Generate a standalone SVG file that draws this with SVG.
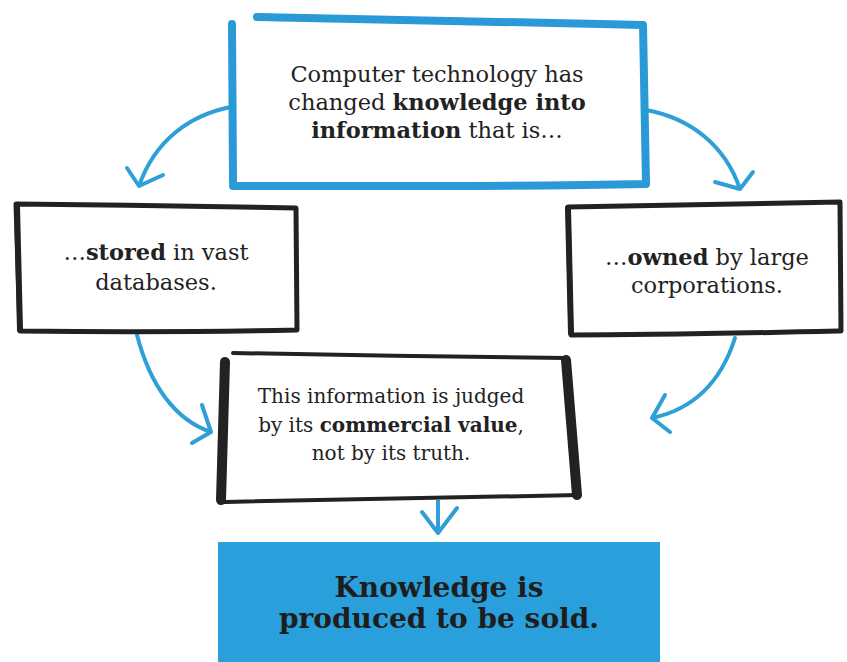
<svg xmlns="http://www.w3.org/2000/svg" width="847" height="662" viewBox="0 0 847 662">
<defs>
<style>
.blue{fill:none;stroke:#2a9ad6;stroke-width:8;stroke-linecap:round;stroke-linejoin:round}
.blk{fill:none;stroke:#222;stroke-width:5;stroke-linecap:round;stroke-linejoin:round}
.thick{fill:none;stroke:#222;stroke-width:9;stroke-linecap:round}
.arr{fill:none;stroke:#2f9fd8;stroke-width:4;stroke-linecap:round;stroke-linejoin:round}
.t{font-family:"DejaVu Serif","Liberation Serif",serif;font-size:22.5px;fill:#222;text-anchor:middle}
.m{font-size:20px}
.b{font-weight:bold}
.big{font-family:"DejaVu Serif","Liberation Serif",serif;font-size:28px;font-weight:bold;fill:#1e1e1e;text-anchor:middle}
</style>
</defs>
<rect width="847" height="662" fill="#ffffff"/>
<g id="connectors">
<path class="arr" d="M231,107 C190,115 155,140 139,186 M127,168 L139,186 L163,175"/>
<path class="arr" d="M646,110 C690,118 725,145 740,189 M715,182 L740,189 L753,172"/>
<path class="arr" d="M137,335 C150,385 175,420 211,432 M202,405 L211,432 L192,443"/>
<path class="arr" d="M735,338 C720,385 690,410 652,418 M665,395 L652,418 L670,432"/>
<path class="arr" d="M438,495 L438,533 M422,512 L438,533 L457,508"/>
</g>
<g id="node-top">
<rect x="233" y="20" width="412" height="166" fill="#fff"/>
<path class="blue" d="M233,182 L232,24 M257,17 C400,20 520,22 643,25 L646,184 C500,187 350,186 233,186"/>
<text class="t" x="437" y="82">Computer technology has</text>
<text class="t" x="437" y="110">changed <tspan class="b">knowledge into</tspan></text>
<text class="t" x="437" y="138"><tspan class="b">information</tspan> that is…</text>
</g>
<g id="node-stored">
<rect x="17" y="204" width="280" height="128" fill="#fff"/>
<path class="blk" d="M16,204 C110,205 200,206 296,208 L297,330 C200,332 110,332 20,331 Z"/>
<path class="thick" d="M17,206 L20,330" style="stroke-width:6"/>
<text class="t" x="156" y="260">…<tspan class="b">stored</tspan> in vast</text>
<text class="t" x="156" y="290">databases.</text>
</g>
<g id="node-owned">
<rect x="569" y="204" width="272" height="130" fill="#fff"/>
<path class="blk" d="M568,207 C660,205 750,203 840,202 L841,331 C750,333 660,335 571,335 Z"/>
<path class="thick" d="M568,208 L571,333" style="stroke-width:6"/>
<text class="t" x="707" y="265">…<tspan class="b">owned</tspan> by large</text>
<text class="t" x="707" y="293">corporations.</text>
</g>
<g id="node-judged">
<rect x="221" y="354" width="356" height="146" fill="#fff"/>
<path class="blk" d="M233,353 C340,355 460,357 566,358 M220,502 C340,500 460,497 579,495" style="stroke-width:4"/>
<path class="thick" d="M225,362 L221,500 M566,360 L577,495" style="stroke-width:10"/>
<text class="t m" x="391" y="403">This information is judged</text>
<text class="t m" x="391" y="432">by its <tspan class="b">commercial value</tspan>,</text>
<text class="t m" x="391" y="460">not by its truth.</text>
</g>
<g id="node-sold">
<rect x="218" y="542" width="442" height="120" fill="#29a0dc"/>
<text class="big" x="439" y="597">Knowledge is</text>
<text class="big" x="439" y="628">produced to be sold.</text>
</g>
</svg>
